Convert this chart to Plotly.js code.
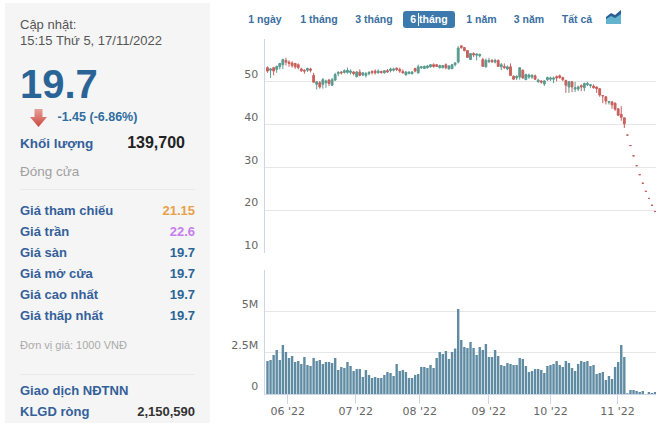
<!DOCTYPE html>
<html><head><meta charset="utf-8">
<script src="https://cdn.plot.ly/plotly-3.0.1.min.js"></script>
<style>
html,body{margin:0;padding:0;background:#fff;width:665px;height:423px;overflow:hidden;font-family:"Liberation Sans",Arial,sans-serif}
#chart{position:absolute;left:0;top:0;width:665px;height:423px}
#panel{position:absolute;left:5px;top:3px;width:205px;height:420px;background:#f5f5f5}
.t{position:absolute;white-space:nowrap;line-height:16px;transform:translateY(-8px)}
.r{right:auto;transform:translate(-100%,-8px)}
.hr{position:absolute;left:20px;width:175px;height:1px;background:#e9e9e9}
.btn{position:absolute;top:19px;transform:translate(-50%,-50%);font-size:10.5px;font-weight:bold;color:#3a6f9f;white-space:nowrap}
#active{position:absolute;left:403px;top:11px;width:52px;height:17px;background:#3c79ad;border-radius:3px}
</style></head><body>
<div id="chart"></div>
<div id="panel"></div>
<div id="active"></div>
<div id="side"></div>
<svg style="position:absolute;left:606px;top:9px" width="16" height="16" viewBox="0 0 16 16"><path d="M0 8L5 4L9 6L15 1V15H0Z" fill="#2a5f93"/><path d="M0 10L5 7L9 9L15 5V15H0Z" fill="#63b3cf"/></svg>
<svg style="position:absolute;left:30px;top:109px" width="17" height="18" viewBox="0 0 17 18"><defs><linearGradient id="g" x1="0" y1="0" x2="0" y2="1"><stop offset="0" stop-color="#e9a09a"/><stop offset="1" stop-color="#c9483f"/></linearGradient></defs><path d="M4.5 0H12.5V8H17L8.5 18L0 8H4.5Z" fill="url(#g)"/></svg>
<script>
var opens=[53.3,52.7,53.3,52.9,53.5,54.0,55.0,54.6,54.4,54.3,54.0,53.0,52.7,52.7,53.0,51.5,49.4,49.8,49.4,49.8,50.4,49.2,50.4,51.9,52.3,52.2,52.2,52.2,52.3,51.2,52.3,51.6,51.5,51.9,52.4,52.5,52.1,52.4,52.1,52.6,52.6,52.7,53.2,52.9,52.4,51.6,51.9,51.9,53.1,52.1,53.3,53.1,53.3,53.5,54.0,54.0,53.3,53.3,54.0,53.0,53.1,54.0,54.6,58.4,58.0,57.3,55.2,56.6,56.2,56.1,55.2,53.5,54.7,55.0,54.6,55.0,53.5,53.6,53.0,53.5,51.3,50.9,51.1,52.7,50.5,51.1,51.1,51.4,50.0,50.2,49.5,50.5,50.6,50.6,51.2,51.4,51.0,50.3,48.8,50.0,48.3,48.3,49.1,48.6,49.3,49.1,49.0,48.8,48.4,46.8,46.5,45.2,45.3,45.0,43.7,42.4,41.6,37.55,35.1,32.7,30.4,28.3,26.3,24.4,22.75,21.15,19.7];
var highs=[53.6,53.2,53.5,53.8,54.4,55.4,55.6,55.0,54.8,54.4,54.3,53.3,52.9,53.3,53.3,52.1,50.2,50.2,50.9,50.5,50.7,50.9,52.1,52.5,52.5,52.9,53.3,52.9,52.5,52.5,52.9,52.2,52.3,52.5,52.7,52.9,52.9,52.6,52.6,53.0,53.3,53.3,53.3,53.3,52.9,52.5,52.4,52.5,53.3,54.0,53.6,53.8,53.9,54.1,54.3,54.0,54.0,53.9,54.3,53.9,54.1,54.6,58.3,58.5,58.1,57.4,56.7,56.9,56.6,56.6,55.6,55.4,55.6,55.3,55.4,55.2,54.4,54.3,53.8,54.3,51.5,51.5,53.3,52.9,51.9,51.9,51.8,51.7,50.7,50.4,50.4,51.2,51.2,51.2,51.5,51.7,51.2,50.5,50.2,50.2,50.0,49.1,49.4,49.8,50.0,49.5,49.4,48.9,48.5,46.8,46.7,45.5,45.5,45.2,43.8,44.3,41.6,37.55,35.1,32.7,30.4,28.3,26.3,24.4,22.75,21.15,19.7];
var lows=[52.1,50.9,51.5,52.1,52.9,53.0,53.8,53.5,53.3,53.0,52.9,52.3,51.9,52.3,52.2,49.8,48.2,48.4,48.4,48.6,49.0,49.0,50.2,51.3,51.7,51.9,51.9,51.7,51.5,51.0,51.3,51.3,51.0,51.5,51.7,51.7,51.9,51.9,51.9,52.1,52.2,52.4,52.5,52.1,51.9,51.5,51.8,51.7,52.2,51.9,53.0,53.0,53.1,53.3,53.3,53.5,53.1,53.1,52.9,52.9,52.9,53.6,54.3,57.7,57.1,55.6,55.2,55.8,55.0,55.7,53.5,53.3,54.4,54.4,54.3,53.5,52.7,53.0,52.7,51.5,50.5,50.4,50.5,50.7,50.5,50.7,50.7,50.4,49.8,49.6,49.0,50.2,50.2,49.7,50.1,50.7,50.1,47.4,47.4,47.6,47.6,47.8,47.8,47.8,49.0,48.6,48.4,47.4,46.5,45.0,44.7,44.7,43.7,43.2,42.0,40.9,39.2,37.55,35.1,32.7,30.4,28.3,26.3,24.4,22.75,21.15,19.7];
var closes=[52.5,53.0,52.5,53.6,54.3,55.2,54.6,54.3,53.8,53.5,53.3,52.6,52.5,53.1,52.7,49.9,50.0,48.8,50.5,50.2,49.6,50.5,51.7,52.2,52.1,52.6,52.7,52.5,51.9,52.3,51.5,52.1,51.9,52.2,52.2,52.1,52.5,52.2,52.6,52.3,53.0,53.0,52.9,52.5,52.1,52.3,52.3,52.3,52.5,53.5,53.5,53.6,53.7,54.0,53.6,53.6,53.8,53.8,53.3,53.7,54.0,54.4,57.9,58.0,57.3,55.7,56.6,56.3,56.5,56.4,53.6,55.0,55.0,54.7,55.0,53.6,54.0,53.3,53.5,51.5,50.6,51.3,53.3,50.9,51.7,51.6,51.5,50.6,50.4,49.9,50.2,51.0,50.9,50.9,50.9,51.0,50.5,49.2,50.0,48.8,48.6,48.8,48.8,49.6,49.6,49.3,48.6,48.4,46.9,46.7,45.5,45.4,44.6,43.6,42.2,41.7,40.2,37.55,35.1,32.7,30.4,28.3,26.3,24.4,22.75,21.15,19.7];
var volumesM=[2.01,2.07,2.37,2.67,2.07,2.97,2.55,2.19,2.31,1.95,2.01,1.83,2.25,1.77,1.71,2.19,2.01,2.07,1.83,1.95,1.95,1.89,2.19,1.47,1.65,1.59,1.95,1.71,1.41,1.53,1.53,1.04,1.47,1.16,0.98,1.04,0.98,0.98,1.16,1.35,1.29,1.10,1.83,1.41,1.47,1.35,0.98,0.98,1.16,1.22,1.65,1.65,1.59,1.77,1.59,2.19,2.55,2.43,2.61,2.13,2.55,2.77,5.14,3.27,2.85,2.79,3.15,2.79,2.37,2.85,2.67,3.03,2.25,2.25,2.67,2.31,1.77,1.71,1.89,1.83,1.77,1.77,2.19,2.13,1.71,1.35,1.41,1.53,1.53,1.47,1.29,1.71,1.77,1.83,2.01,1.77,1.65,2.01,1.89,1.59,1.41,1.83,2.01,1.95,2.01,1.71,1.77,1.22,1.29,1.35,0.86,1.10,0.92,1.65,1.95,2.97,2.25,0.06,0.26,0.26,0.20,0.14,0.20,0.02,0.14,0.08,0.14];
var monthTicks=[6.6,28.7,49.5,71.9,92,113.8];
var monthLabels=["06 '22","07 '22","08 '22","09 '22","10 '22","11 '22"];
var priceTicks=[10,20,30,40,50,60];
var priceLabels=["10","20","30","40","50",""];
var volumeTicks=[0,2.5,5,7.5];
var volumeLabels=["0","2.5M","5M",""];
var sessions=closes.map(function(_,i){return i;});

var W=665,H=423;
var tickFont={family:'"DejaVu Sans",sans-serif',size:11,color:'#666'};
var data=[
 {type:'candlestick',x:sessions,open:opens,high:highs,low:lows,close:closes,xaxis:'x',yaxis:'y',
  increasing:{line:{color:'#5a9a90',width:1},fillcolor:'#5a9a90'},
  decreasing:{line:{color:'#c8605c',width:1},fillcolor:'#c8605c'},
  whiskerwidth:0,hoverinfo:'skip',showlegend:false},
 {type:'bar',x:sessions,y:volumesM,xaxis:'x2',yaxis:'y2',marker:{color:'#5f8ba3',line:{width:0}},hoverinfo:'skip',showlegend:false}
];
var xr=[-0.97,126.3];
var layout={
 width:W,height:H,margin:{l:0,r:0,t:0,b:0},paper_bgcolor:'rgba(0,0,0,0)',plot_bgcolor:'rgba(0,0,0,0)',
 showlegend:false,bargap:0.22,boxgap:0.15,
 xaxis:{domain:[264.5/W,656/W],range:xr,anchor:'y',rangeslider:{visible:false},showgrid:false,zeroline:false,showticklabels:false,ticks:'',showline:false},
 yaxis:{domain:[1-253/H,1-39/H],range:[10,60],anchor:'x',tickvals:priceTicks,ticktext:priceLabels,tickfont:tickFont,ticks:'',ticklabelposition:'outside top',ticklabelstandoff:3,
   gridcolor:'#e6e6e6',gridwidth:1,zeroline:false,showline:true,linecolor:'#ccd6eb',linewidth:1},
 xaxis2:{domain:[264.5/W,656/W],range:xr,anchor:'y2',tickvals:monthTicks,ticktext:monthLabels,tickfont:tickFont,ticks:'outside',ticklen:9,tickcolor:'#ccd6eb',tickwidth:1,ticklabelstandoff:-3,
   showgrid:false,zeroline:false,showline:true,linecolor:'#ccd6eb',linewidth:1,tickangle:0},
 yaxis2:{domain:[1-394.3/H,1-270/H],range:[0,7.5],anchor:'x2',tickvals:volumeTicks,ticktext:volumeLabels,tickfont:tickFont,ticks:'',ticklabelposition:'outside top',ticklabelstandoff:3,
   gridcolor:'#e6e6e6',gridwidth:1,zeroline:false,showline:true,linecolor:'#ccd6eb',linewidth:1}
};
Plotly.newPlot('chart',data,layout,{displayModeBar:false,staticPlot:true});

// side panel and range buttons
var rangeLabels=["1 ngày","1 tháng","3 tháng","6 tháng","1 năm","3 năm","Tất cả"];
var rangeCentres=[265,319,374,429,481.5,529,577];
var rowLabels=["Giá tham chiếu","Giá trần","Giá sàn","Giá mở cửa","Giá cao nhất","Giá thấp nhất"];
var rowValues=["21.15","22.6","19.7","19.7","19.7","19.7"];
var rowColors=["#e8a04a","#c77dee","#2a6496","#2a6496","#2a6496","#2a6496"];
var rowYs=[210.5,231.5,252.5,273.5,294.5,315.5];
var side=document.getElementById('side');
function txt(s,x,y,size,color,bold,right){
 var d=document.createElement('div');d.className='t'+(right?' r':'');d.textContent=s;
 d.style.cssText='left:'+x+'px;top:'+y+'px;font-size:'+size+'px;color:'+color+';font-weight:'+(bold?'bold':'normal');
 side.appendChild(d);
}
txt("Cập nhật:",20,25,13,'#555');
txt("15:15 Thứ 5, 17/11/2022",20,41,13,'#555');
txt("19.7",20,84,40,'#2a6496',true);
txt("-1.45 (-6.86%)",57.5,117,12.5,'#2f6da0',true);
txt("Khối lượng",20,144,13.5,'#34609a',true);
txt("139,700",185,143,16,'#222',true,true);
txt("Đóng cửa",20,171.5,13.5,'#a0a0a0');
rowLabels.forEach(function(l,i){
 txt(l,20,rowYs[i],13,'#34609a',true);
 txt(rowValues[i],195,rowYs[i],13,rowColors[i],true,true);
});
txt("Đơn vị giá: 1000 VNĐ",20,345,11,'#aaa');
txt("Giao dịch NĐTNN",20,390.5,13,'#34609a',true);
txt("KLGD ròng",20,411.5,13,'#34609a',true);
txt("2,150,590",195,411.5,13,'#333',true,true);
[189,374].forEach(function(y){var h=document.createElement('div');h.className='hr';h.style.top=y+'px';side.appendChild(h);});
rangeLabels.forEach(function(l,i){
 var b=document.createElement('div');b.className='btn';b.textContent=l;b.style.left=rangeCentres[i]+'px';
 if(i===3)b.style.color='#fff';
 side.appendChild(b);
});
var caret=document.createElement('div');caret.style.cssText='position:absolute;left:418px;top:13px;width:1px;height:13px;background:#fff';side.appendChild(caret);
</script>
</body></html>
